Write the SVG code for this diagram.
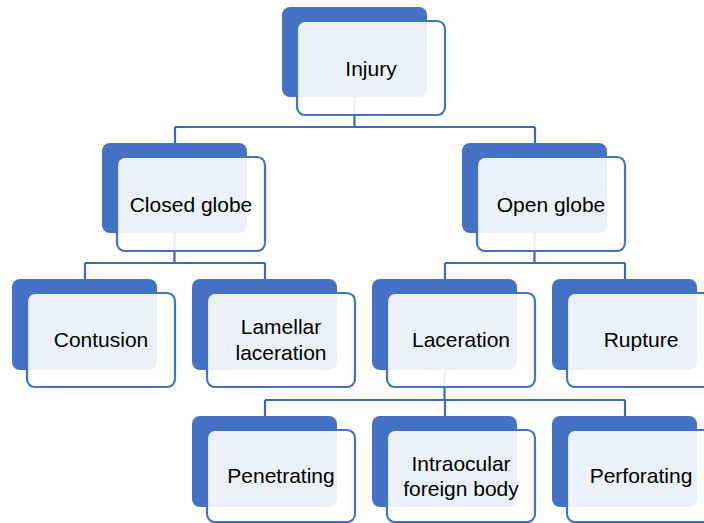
<svg xmlns="http://www.w3.org/2000/svg" width="704" height="523" viewBox="0 0 704 523">
<style>
.bk{fill:#4472C4}
.fr{fill:#FFFFFF;fill-opacity:0.9;stroke:#4472C4;stroke-width:2.2}
.ln{fill:none;stroke:#3F68B2;stroke-width:2.2}
text{font-family:"Liberation Sans",Arial,sans-serif;font-size:21px;fill:#000;text-anchor:middle}
</style>
<rect width="704" height="523" fill="#fff"/>
<g id="connectors">
<path class="ln" d="M354.5 97V127M175 127H535M175 127V143M535 127V143"/>
<path class="ln" d="M174.5 233V263M85 263H265M85 263V279M265 263V279"/>
<path class="ln" d="M534.5 233V263M445 263H625M445 263V279M625 263V279"/>
<path class="ln" d="M444.5 370V400M265 400H625M265 400V416M445 400V416M625 400V416"/>
</g>
<g id="injury">
<rect class="bk" x="282" y="7" width="145" height="90" rx="8"/>
<rect class="fr" x="297" y="21" width="148" height="94" rx="8"/>
<text x="371" y="76">Injury</text>
</g>
<g id="closed-globe">
<rect class="bk" x="102" y="143" width="145" height="90" rx="8"/>
<rect class="fr" x="117" y="157" width="148" height="94" rx="8"/>
<text x="191" y="212">Closed globe</text>
</g>
<g id="open-globe">
<rect class="bk" x="462" y="143" width="145" height="90" rx="8"/>
<rect class="fr" x="477" y="157" width="148" height="94" rx="8"/>
<text x="551" y="212">Open globe</text>
</g>
<g id="contusion">
<rect class="bk" x="12" y="279" width="145" height="91" rx="8"/>
<rect class="fr" x="27" y="293" width="148" height="94" rx="8"/>
<text x="101" y="347">Contusion</text>
</g>
<g id="lamellar-laceration">
<rect class="bk" x="192" y="279" width="145" height="91" rx="8"/>
<rect class="fr" x="207" y="293" width="148" height="94" rx="8"/>
<text x="281" y="334">Lamellar</text>
<text x="281" y="360">laceration</text>
</g>
<g id="laceration">
<rect class="bk" x="372" y="279" width="145" height="91" rx="8"/>
<rect class="fr" x="387" y="293" width="148" height="94" rx="8"/>
<text x="461" y="347">Laceration</text>
</g>
<g id="rupture">
<rect class="bk" x="552" y="279" width="145" height="91" rx="8"/>
<rect class="fr" x="567" y="293" width="148" height="94" rx="8"/>
<text x="641" y="347">Rupture</text>
</g>
<g id="penetrating">
<rect class="bk" x="192" y="416" width="145" height="91" rx="8"/>
<rect class="fr" x="207" y="430" width="148" height="92" rx="8"/>
<text x="281" y="483">Penetrating</text>
</g>
<g id="intraocular-foreign-body">
<rect class="bk" x="372" y="416" width="145" height="91" rx="8"/>
<rect class="fr" x="387" y="430" width="148" height="92" rx="8"/>
<text x="461" y="471">Intraocular</text>
<text x="461" y="496">foreign body</text>
</g>
<g id="perforating">
<rect class="bk" x="552" y="416" width="145" height="91" rx="8"/>
<rect class="fr" x="567" y="430" width="148" height="92" rx="8"/>
<text x="641" y="483">Perforating</text>
</g>
</svg>
